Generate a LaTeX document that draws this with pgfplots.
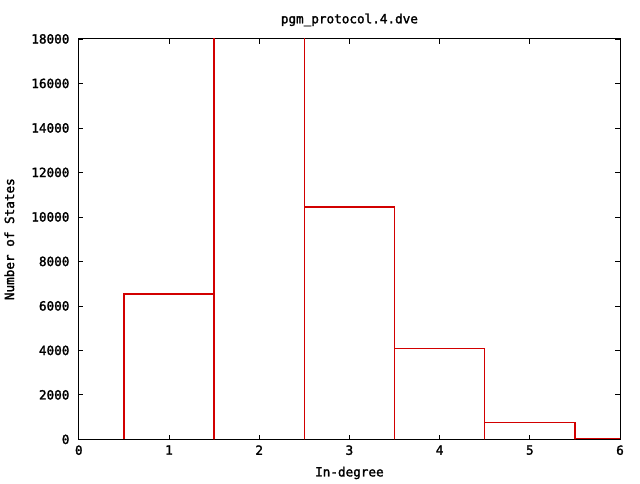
\documentclass[border=0pt]{standalone}
\usepackage{pgfplots}
\pgfplotsset{compat=1.18}
\usepackage{fontspec}
\setmonofont{DejaVu Sans Mono}
\newfontfamily\gpfont{DejaVu Sans Mono}[FakeBold=2]
\definecolor{gpred}{RGB}{210,0,0}
\begin{document}
\begin{tikzpicture}
\begin{axis}[
    name=ax,
    scale only axis,
    width=406.5pt, height=300.75pt,
    xmin=0, xmax=6, ymin=0, ymax=18000,
    xtick={0,1,2,3,4,5,6},
    ytick={0,2000,...,18000},
    tick align=inside,
    major tick length=3.5pt,
    axis line style={line width=0.75pt},
    every tick/.style={black, line width=0.6pt},
    /pgf/number format/assume math mode=true,
    /pgf/number format/1000 sep={},
    scaled y ticks=false,
    tick label style={font=\gpfont\fontsize{9.5}{11}\selectfont},
    yticklabel style={xshift=-3.5pt},
    xticklabel style={yshift=-1pt},
    title={pgm\_protocol.4.dve},
    title style={font=\gpfont\fontsize{9.5}{11}\selectfont, at={(0.5,1)}, yshift=0pt},
    xlabel={In-degree},
    ylabel={Number of States},
    label style={font=\gpfont\fontsize{9.5}{11}\selectfont},
    xlabel style={yshift=-2pt},
    ylabel style={yshift=6pt},
]
% boxes of width 1 centred on each in-degree, drawn as one outline
\addplot[sharp plot, no marks, draw=gpred, line width=1pt, line join=miter] coordinates {
    (0.5,0) (0.5,6540) (1.5,6540) (1.5,0)
    (1.5,25000) (2.5,25000) (2.5,0)
    (2.5,10450) (3.5,10450) (3.5,0)
    (3.5,4080) (4.5,4080) (4.5,0)
    (4.5,765) (5.5,765) (5.5,0)
    (5.5,45) (6.5,45) (6.5,0)
};
\end{axis}
\path (ax.south west) ++(-58.5pt,-30pt) coordinate (bl);
\path (ax.north east) ++(15pt,29.25pt) coordinate (tr);
\useasboundingbox (bl) rectangle (tr);
\end{tikzpicture}
\end{document}
